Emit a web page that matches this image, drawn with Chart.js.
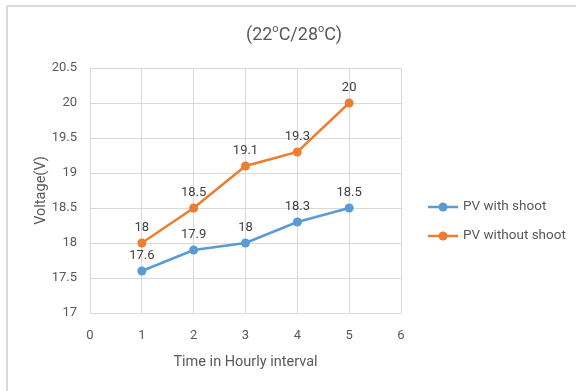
<!DOCTYPE html>
<html>
<head>
<meta charset="utf-8">
<script src="https://cdn.jsdelivr.net/npm/chart.js@4/dist/chart.umd.min.js"></script>
<style>
  body { margin: 0; background: #fff; }
  #wrap { width: 576px; height: 391px; }
</style>
</head>
<body>
<div id="wrap"><canvas id="pv-chart" width="576" height="391"></canvas></div>
<script>
// data
var hours = [1, 2, 3, 4, 5];
var withShoot = [17.6, 17.9, 18, 18.3, 18.5];
var withoutShoot = [18, 18.5, 19.1, 19.3, 20];
var seriesNames = ['PV with shoot', 'PV without shoot'];
var xTicks = [0, 1, 2, 3, 4, 5, 6];
var yTicks = [17, 17.5, 18, 18.5, 19, 19.5, 20, 20.5];

var FONT = 'Roboto, "Liberation Sans", sans-serif';
var BLUE = '#5b9bd5';
var ORANGE = '#ed7d31';
var GREY = '#595959';
var GRID = '#d9d9d9';

function toPoints(values) {
    return hours.map(function (h, i) { return { x: h, y: values[i] }; });
}

// title, value labels, legend and outer frame
var extras = {
    id: 'extras',
    afterDatasetsDraw: function (chart) {
        var ctx = chart.ctx;
        ctx.save();
        ctx.font = '13px ' + FONT;
        ctx.fillStyle = '#404040';
        ctx.textAlign = 'center';
        ctx.textBaseline = 'middle';
        chart.data.datasets.forEach(function (ds, di) {
            chart.getDatasetMeta(di).data.forEach(function (pt, i) {
                ctx.fillText(String(ds.data[i].y), pt.x, pt.y - 15);
            });
        });
        ctx.restore();
    },
    afterDraw: function (chart) {
        var ctx = chart.ctx;
        ctx.save();
        // title with superscript o
        var parts = [['(22', 18], ['o', 11], ['C/28', 18], ['o', 11], ['C)', 18]];
        var total = 0;
        parts.forEach(function (p) {
            ctx.font = p[1] + 'px ' + FONT;
            total += ctx.measureText(p[0]).width;
        });
        var x = 294 - total / 2;
        ctx.fillStyle = GREY;
        ctx.textBaseline = 'alphabetic';
        ctx.textAlign = 'left';
        parts.forEach(function (p) {
            ctx.font = p[1] + 'px ' + FONT;
            ctx.fillText(p[0], x, p[1] === 18 ? 40 : 32);
            x += ctx.measureText(p[0]).width;
        });

        // legend
        var colors = [BLUE, ORANGE];
        var rows = [207, 236];
        ctx.font = '13.5px ' + FONT;
        ctx.textBaseline = 'middle';
        seriesNames.forEach(function (name, i) {
            var y = rows[i];
            ctx.strokeStyle = colors[i];
            ctx.lineWidth = 2.5;
            ctx.beginPath();
            ctx.moveTo(428, y);
            ctx.lineTo(458, y);
            ctx.stroke();
            ctx.fillStyle = colors[i];
            ctx.beginPath();
            ctx.arc(443, y, 4.5, 0, Math.PI * 2);
            ctx.fill();
            ctx.fillStyle = GREY;
            ctx.fillText(name, 463, y);
        });

        // frame: only top and left edges show in the crop
        ctx.strokeStyle = '#dadada';
        ctx.lineWidth = 2;
        ctx.beginPath();
        ctx.moveTo(chart.width, 6);
        ctx.lineTo(7, 6);
        ctx.lineTo(7, chart.height);
        ctx.stroke();
        ctx.restore();
    }
};

document.addEventListener('DOMContentLoaded', function () {
    var ctx = document.getElementById('pv-chart').getContext('2d');
    var pvChart = new Chart(ctx, {
        type: 'line',
        data: {
            datasets: [{
                label: seriesNames[0],
                data: toPoints(withShoot),
                borderColor: BLUE,
                backgroundColor: BLUE,
                borderWidth: 2.5,
                pointRadius: 4.5,
                pointBorderWidth: 0
            }, {
                label: seriesNames[1],
                data: toPoints(withoutShoot),
                borderColor: ORANGE,
                backgroundColor: ORANGE,
                borderWidth: 2.5,
                pointRadius: 4.5,
                pointBorderWidth: 0
            }]
        },
        options: {
            responsive: false,
            animation: false,
            layout: { padding: { left: 29, right: 175, top: 68, bottom: 16 } },
            plugins: {
                legend: { display: false },
                title: { display: false },
                tooltip: { enabled: false }
            },
            scales: {
                x: {
                    type: 'linear',
                    min: xTicks[0],
                    max: xTicks[xTicks.length - 1],
                    afterBuildTicks: function (scale) {
                        scale.ticks = xTicks.map(function (v) { return { value: v }; });
                    },
                    afterFit: function (scale) { scale.height = 62; },
                    grid: { color: GRID, drawTicks: false },
                    border: { color: GRID },
                    ticks: {
                        color: GREY, font: { family: FONT, size: 13 }, padding: 15,
                        callback: function (v) { return String(v); }
                    },
                    title: {
                        display: true,
                        text: 'Time in Hourly interval',
                        color: GREY,
                        font: { family: FONT, size: 14.5 },
                        padding: { top: 6 }
                    }
                },
                y: {
                    min: yTicks[0],
                    max: yTicks[yTicks.length - 1],
                    afterBuildTicks: function (scale) {
                        scale.ticks = yTicks.map(function (v) { return { value: v }; });
                    },
                    afterFit: function (scale) { scale.width = 61; },
                    grid: { color: GRID, drawTicks: false },
                    border: { color: GRID },
                    ticks: {
                        color: GREY, font: { family: FONT, size: 13 }, padding: 13,
                        callback: function (v) { return String(v); }
                    },
                    title: {
                        display: true,
                        text: 'Voltage(V)',
                        color: GREY,
                        font: { family: FONT, size: 14.5 },
                        padding: { bottom: 2 }
                    }
                }
            }
        },
        plugins: [extras]
    });
});
</script>
</body>
</html>
